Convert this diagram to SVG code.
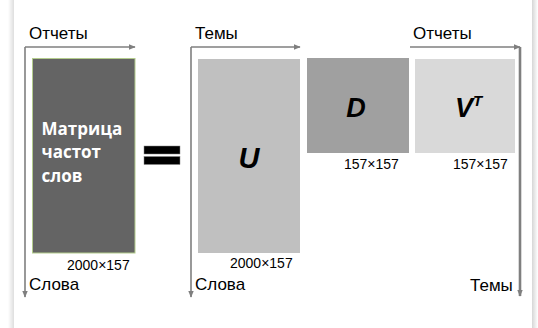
<svg xmlns="http://www.w3.org/2000/svg" width="538" height="328" viewBox="0 0 538 328">
<defs>
<linearGradient id="shL" x1="0" x2="1" y1="0" y2="0">
<stop offset="0" stop-color="#ffffff"/>
<stop offset="1" stop-color="#dedede"/>
</linearGradient>
<linearGradient id="shR" x1="0" x2="1" y1="0" y2="0">
<stop offset="0" stop-color="#d6d6d6"/>
<stop offset="1" stop-color="#ffffff"/>
</linearGradient>
<marker id="ah" viewBox="0 0 10 10" refX="9" refY="5" markerWidth="7" markerHeight="7" markerUnits="userSpaceOnUse" orient="auto">
<path d="M0,1 L10,5 L0,9 Z" fill="#7f7f7f"/>
</marker>
<style>
.ax{fill:none;stroke:#7f7f7f;stroke-width:1.6}
.lbl{font-family:"Liberation Sans",Arial,sans-serif;font-size:17px;fill:#000}
.dim{font-family:"Liberation Sans",Arial,sans-serif;font-size:14px;fill:#000}
.big{font-family:"Liberation Sans",Arial,sans-serif;font-weight:bold;font-style:italic;fill:#000}
.mt{font-family:"Open Sans","Liberation Sans",sans-serif;font-weight:bold;font-size:17px;fill:#fff}
</style>
</defs>
<rect x="0" y="0" width="538" height="328" fill="#ffffff"/>
<rect x="8" y="0" width="6" height="328" fill="url(#shL)"/>
<rect x="532" y="0" width="6" height="328" fill="url(#shR)"/>

<g id="connectors">
<path class="ax" d="M25,47 H135" marker-end="url(#ah)"/>
<path class="ax" d="M25,47 V297" marker-end="url(#ah)"/>
<path class="ax" d="M191,47 H300" marker-end="url(#ah)"/>
<path class="ax" d="M191,47 V297" marker-end="url(#ah)"/>
<path class="ax" d="M410,47 H520" marker-end="url(#ah)"/>
<path class="ax" style="stroke-width:2.6" d="M520,47 V296" marker-end="url(#ah)"/>
</g>

<g id="axis-labels">
<text class="lbl" x="29" y="39">Отчеты</text>
<text class="lbl" x="29" y="290">Слова</text>
<text class="lbl" x="195" y="39">Темы</text>
<text class="lbl" x="195" y="290">Слова</text>
<text class="lbl" x="413" y="39">Отчеты</text>
<text class="lbl" x="470" y="291">Темы</text>
</g>

<g id="matrix">
<rect x="32.5" y="58.5" width="102.5" height="194.5" fill="#646464" stroke="#b3cc8c" stroke-width="1"/>
<text class="mt" x="41.5" y="135">Матрица</text>
<text class="mt" x="41.5" y="158">частот</text>
<text class="mt" x="41.5" y="182">слов</text>
<text class="dim" x="67" y="270">2000×157</text>
</g>

<g id="equals">
<rect x="144" y="146" width="36" height="8" fill="#000" stroke="#888" stroke-width="0.5"/>
<rect x="144" y="156.5" width="36" height="8" fill="#000" stroke="#888" stroke-width="0.5"/>
</g>

<g id="U">
<rect x="198" y="59" width="102" height="194" fill="#c0c0c0"/>
<text class="big" x="249" y="168" font-size="29" text-anchor="middle">U</text>
<text class="dim" x="230" y="268">2000×157</text>
</g>

<g id="D">
<rect x="307" y="58" width="102" height="95" fill="#a0a0a0"/>
<text class="big" x="356" y="117" font-size="27" text-anchor="middle">D</text>
<text class="dim" x="344" y="169">157×157</text>
</g>

<g id="VT">
<rect x="415" y="59" width="100" height="94" fill="#d9d9d9"/>
<text class="big" x="455" y="117" font-size="27">V<tspan font-size="15" dy="-11">T</tspan></text>
<text class="dim" x="453" y="169">157×157</text>
</g>
</svg>
